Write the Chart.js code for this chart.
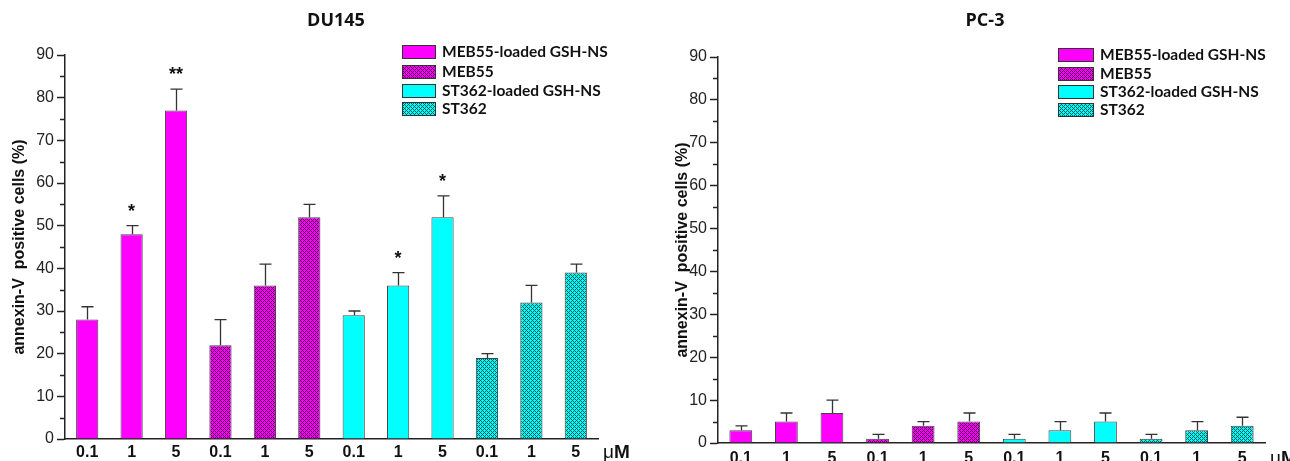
<!DOCTYPE html>
<html>
<head>
<meta charset="utf-8">
<script src="https://cdn.jsdelivr.net/npm/chart.js@4.4.1/dist/chart.umd.min.js"></script>
<style>
  body { margin: 0; background: #fff; }
  .wrap { position: absolute; top: 0; width: 645px; height: 461px; }
</style>
</head>
<body>
<div class="wrap" style="left:0"><canvas id="du145"></canvas></div>
<div class="wrap" style="left:645px"><canvas id="pc3"></canvas></div>
<script>
// doses on the x axis, repeated for each treatment group
var doseLabels = ['0.1', '1', '5', '0.1', '1', '5', '0.1', '1', '5', '0.1', '1', '5'];
var groupNames = ['MEB55-loaded GSH-NS', 'MEB55', 'ST362-loaded GSH-NS', 'ST362'];
var yTicks = [0, 10, 20, 30, 40, 50, 60, 70, 80, 90];

// DU145 (mean, SD) per group at 0.1 / 1 / 5 uM
var du145MebLoaded = [28, 48, 77];
var du145Meb = [22, 36, 52];
var du145StLoaded = [29, 36, 52];
var du145St = [19, 32, 39];
var du145MebLoadedErr = [3, 2, 5];
var du145MebErr = [6, 5, 3];
var du145StLoadedErr = [1, 3, 5];
var du145StErr = [1, 4, 2];
var du145Stars = ['', '*', '**', '', '', '', '', '*', '*', '', '', ''];

// PC-3
var pc3MebLoaded = [3, 5, 7];
var pc3Meb = [1, 4, 5];
var pc3StLoaded = [1, 3, 5];
var pc3St = [1, 3, 4];
var pc3MebLoadedErr = [1, 2, 3];
var pc3MebErr = [1, 1, 2];
var pc3StLoadedErr = [1, 2, 2];
var pc3StErr = [1, 2, 2];
var pc3Stars = ['', '', '', '', '', '', '', '', '', '', '', ''];

var W = 645, H = 461;
var ARIAL = '"Liberation Sans", Arial, sans-serif';

function hatch(base, dark) {
  var c = document.createElement('canvas');
  c.width = 4; c.height = 4;
  var g = c.getContext('2d');
  g.fillStyle = base;
  g.fillRect(0, 0, 4, 4);
  g.fillStyle = dark;
  for (var x = 0; x < 4; x++) {
    for (var y = 0; y < 4; y++) {
      if ((x + y) % 4 == 0 || (x - y + 4) % 4 == 0) g.fillRect(x, y, 1, 1);
    }
  }
  return g.createPattern(c, 'repeat');
}

var fills = ['#ff00ff', hatch('#ff00ff', '#5a005a'), '#00ffff', hatch('#00ffff', '#005a5a')];

function spread(vals, g) {
  var out = [];
  for (var i = 0; i < 12; i++) out.push(null);
  for (var k = 0; k < 3; k++) out[g * 3 + k] = vals[k];
  return out;
}

var extras = {
  id: 'extras',
  afterDraw: function(chart) {
    var o = chart.options.plugins.extras;
    var ctx = chart.ctx;
    var ys = chart.scales.y;
    var a = chart.chartArea;
    ctx.save();

    // minor ticks
    ctx.strokeStyle = '#222';
    ctx.lineWidth = 1.5;
    for (var v = 5; v < 90; v += 10) {
      var py = Math.round(ys.getPixelForValue(v)) + 0.5;
      ctx.beginPath();
      ctx.moveTo(a.left - 5, py);
      ctx.lineTo(a.left, py);
      ctx.stroke();
    }

    // error bars (upper only) and significance marks
    ctx.strokeStyle = '#333';
    ctx.lineWidth = 1.3;
    chart.data.datasets.forEach(function(ds, di) {
      var meta = chart.getDatasetMeta(di);
      ds.data.forEach(function(val, i) {
        if (val === null) return;
        var bar = meta.data[i];
        var x = Math.round(bar.x) + 0.5;
        var y0 = ys.getPixelForValue(val);
        var y1 = ys.getPixelForValue(val + ds.err[i]);
        ctx.beginPath();
        ctx.moveTo(x, y0);
        ctx.lineTo(x, y1);
        ctx.moveTo(x - 6, y1);
        ctx.lineTo(x + 6, y1);
        ctx.stroke();
        if (o.stars[i]) {
          ctx.fillStyle = '#111';
          ctx.font = 'bold 18px ' + ARIAL;
          ctx.textAlign = 'center';
          ctx.textBaseline = 'middle';
          ctx.fillText(o.stars[i], bar.x, y1 - 14);
        }
      });
    });

    // title
    ctx.fillStyle = '#111';
    ctx.font = 'bold 18px "Open Sans"';
    ctx.textAlign = 'center';
    ctx.textBaseline = 'middle';
    ctx.fillText(o.title, o.titleX, o.titleY);

    // legend
    ctx.font = 'bold 15.5px Lato';
    ctx.textAlign = 'left';
    groupNames.forEach(function(name, i) {
      var ty = o.legTop[i];
      ctx.fillStyle = fills[i];
      ctx.fillRect(o.legX, ty, o.legW, 13);
      ctx.strokeStyle = '#333';
      ctx.lineWidth = 1;
      ctx.strokeRect(o.legX + 0.5, ty + 0.5, o.legW, 13);
      ctx.fillStyle = '#111';
      ctx.fillText(name, o.legX + o.legW + 7, ty + 7);
    });

    // unit label
    var ly = a.bottom + 10 + o.labelPad;
    ctx.fillStyle = '#111';
    ctx.font = '19px ' + ARIAL;
    ctx.textAlign = 'left';
    ctx.fillText('\u03bc', a.right + 5, ly);
    var mw = ctx.measureText('\u03bc').width;
    ctx.font = 'bold 19px ' + ARIAL;
    ctx.fillText('M', a.right + 5 + mw, ly);
    ctx.restore();
  }
};

function makeChart(id, groups, errs, stars, area, title, titleX, legX, legW, legTop, yTitlePad, labelPad) {
  var datasets = groups.map(function(vals, g) {
    return {
      label: groupNames[g],
      data: spread(vals, g),
      err: spread(errs[g], g),
      backgroundColor: fills[g],
      borderColor: '#444',
      borderWidth: 1,
      barPercentage: 0.5,
      categoryPercentage: 1.0,
      skipNull: true
    };
  });

  return new Chart(document.getElementById(id), {
    type: 'bar',
    data: { labels: doseLabels, datasets: datasets },
    options: {
      animation: false,
      responsive: true,
      maintainAspectRatio: false,
      layout: { padding: { top: area.top, right: W - area.right, left: 0, bottom: 0 } },
      plugins: {
        legend: { display: false },
        tooltip: { enabled: false },
        extras: { stars: stars, title: title, titleX: titleX, titleY: 21, legX: legX, legW: legW, legTop: legTop, labelPad: labelPad }
      },
      scales: {
        x: {
          grid: { display: false, drawTicks: false },
          border: { display: true, color: '#222', width: 1.5 },
          ticks: {
            font: { family: ARIAL, weight: 'bold', size: 16 },
            color: '#111', padding: labelPad, maxRotation: 0, autoSkip: false
          },
          afterFit: function(s) { s.height = H - area.bottom; }
        },
        y: {
          min: 0, max: 90,
          afterBuildTicks: function(s) { s.ticks = yTicks.map(function(v) { return { value: v }; }); },
          ticks: { font: { family: ARIAL, size: 16 }, color: '#222', padding: 3 },
          grid: { drawOnChartArea: false, drawTicks: true, tickLength: 8, tickColor: '#222', tickWidth: 1.5 },
          border: { color: '#222', width: 1.5 },
          title: {
            display: true, text: 'annexin-V  positive cells (%)',
            font: { family: ARIAL, weight: 'bold', size: 16 },
            color: '#111', padding: { top: yTitlePad, bottom: 0 }
          },
          afterFit: function(s) { s.width = area.left; }
        }
      }
    },
    plugins: [extras]
  });
}

makeChart('du145',
  [du145MebLoaded, du145Meb, du145StLoaded, du145St],
  [du145MebLoadedErr, du145MebErr, du145StLoadedErr, du145StErr],
  du145Stars,
  { left: 65, right: 598, top: 55, bottom: 439 },
  'DU145', 336, 402, 33, [45, 65, 84, 102], 10, 4);

makeChart('pc3',
  [pc3MebLoaded, pc3Meb, pc3StLoaded, pc3St],
  [pc3MebLoadedErr, pc3MebErr, pc3StLoadedErr, pc3StErr],
  pc3Stars,
  { left: 73, right: 620, top: 57, bottom: 443 },
  'PC-3', 340, 413, 35, [48, 67, 85, 103], 28, 6);
</script>
</body>
</html>
